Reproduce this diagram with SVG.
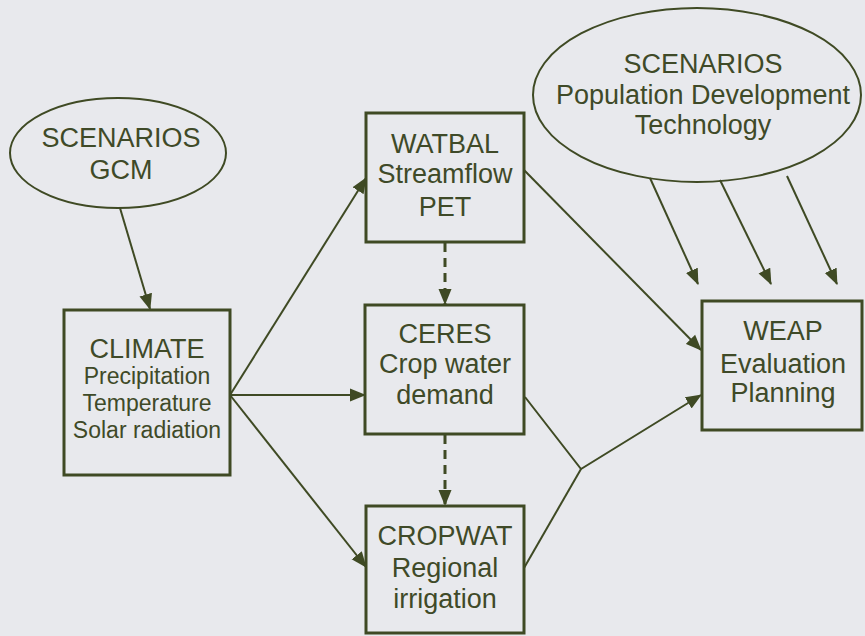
<svg xmlns="http://www.w3.org/2000/svg" width="865" height="636" viewBox="0 0 865 636">
<style>
.bg{fill:#e8e9ed}
.box{fill:none;stroke:#3f4a24;stroke-width:3}
.ell{fill:none;stroke:#3f4a24;stroke-width:2}
.t{font-family:"Liberation Sans",Arial,sans-serif;fill:#3f4a28;text-anchor:middle}
.h{font-size:27px}
.s{font-size:23px}
.ln{fill:none;stroke:#3f4a24;stroke-width:2}
.dash{fill:none;stroke:#3f4a24;stroke-width:3;stroke-dasharray:9 6}
</style>
<defs>
<marker id="ahd" markerWidth="16" markerHeight="14" refX="15" refY="7" orient="auto" markerUnits="userSpaceOnUse" viewBox="0 0 16 14">
<path d="M0,0.5 L16,7 L0,13.5 z" fill="#3f4a24"/>
</marker>
</defs>
<rect class="bg" x="0" y="0" width="865" height="636"/>
<g id="connectors">
<line class="ln" x1="120" y1="208" x2="150" y2="309" marker-end="url(#ahd)"/>
<line class="ln" x1="230" y1="395" x2="366" y2="178" marker-end="url(#ahd)"/>
<line class="ln" x1="230" y1="395" x2="365" y2="395" marker-end="url(#ahd)"/>
<line class="ln" x1="230" y1="395" x2="366" y2="567" marker-end="url(#ahd)"/>
<line class="dash" x1="445" y1="243" x2="445" y2="304" marker-end="url(#ahd)"/>
<line class="dash" x1="445" y1="435" x2="445" y2="505" marker-end="url(#ahd)"/>
<line class="ln" x1="524" y1="170" x2="701" y2="350" marker-end="url(#ahd)"/>
<polyline class="ln" points="525,397 581,469 701,395" marker-end="url(#ahd)"/>
<line class="ln" x1="524" y1="568" x2="581" y2="469"/>
<line class="ln" x1="650" y1="178" x2="698" y2="284" marker-end="url(#ahd)"/>
<line class="ln" x1="720" y1="180" x2="771" y2="284" marker-end="url(#ahd)"/>
<line class="ln" x1="787" y1="176" x2="837" y2="284" marker-end="url(#ahd)"/>
</g>
<g id="scenarios-gcm">
<ellipse class="ell" cx="118" cy="153" rx="108" ry="55"/>
<text class="t h" x="121" y="147">SCENARIOS</text>
<text class="t h" x="121" y="179">GCM</text>
</g>
<g id="climate">
<rect class="box" x="64" y="310" width="166" height="165"/>
<text class="t h" x="147" y="358">CLIMATE</text>
<text class="t s" x="147" y="384">Precipitation</text>
<text class="t s" x="147" y="411">Temperature</text>
<text class="t s" x="147" y="438">Solar radiation</text>
</g>
<g id="watbal">
<rect class="box" x="366" y="113" width="158" height="129"/>
<text class="t h" x="445" y="153">WATBAL</text>
<text class="t h" x="445" y="183">Streamflow</text>
<text class="t h" x="445" y="216">PET</text>
</g>
<g id="ceres">
<rect class="box" x="365" y="305" width="159" height="129"/>
<text class="t h" x="445" y="343">CERES</text>
<text class="t h" x="445" y="373">Crop water</text>
<text class="t h" x="445" y="404">demand</text>
</g>
<g id="cropwat">
<rect class="box" x="366" y="506" width="158" height="127"/>
<text class="t h" x="445" y="545">CROPWAT</text>
<text class="t h" x="445" y="577">Regional</text>
<text class="t h" x="445" y="608">irrigation</text>
</g>
<g id="scenarios-population">
<ellipse class="ell" cx="697" cy="95" rx="164" ry="87"/>
<text class="t h" x="703" y="73">SCENARIOS</text>
<text class="t h" x="703" y="104">Population Development</text>
<text class="t h" x="703" y="134">Technology</text>
</g>
<g id="weap">
<rect class="box" x="702" y="301" width="160" height="129"/>
<text class="t h" x="783" y="340">WEAP</text>
<text class="t h" x="783" y="373">Evaluation</text>
<text class="t h" x="783" y="402">Planning</text>
</g>
</svg>
